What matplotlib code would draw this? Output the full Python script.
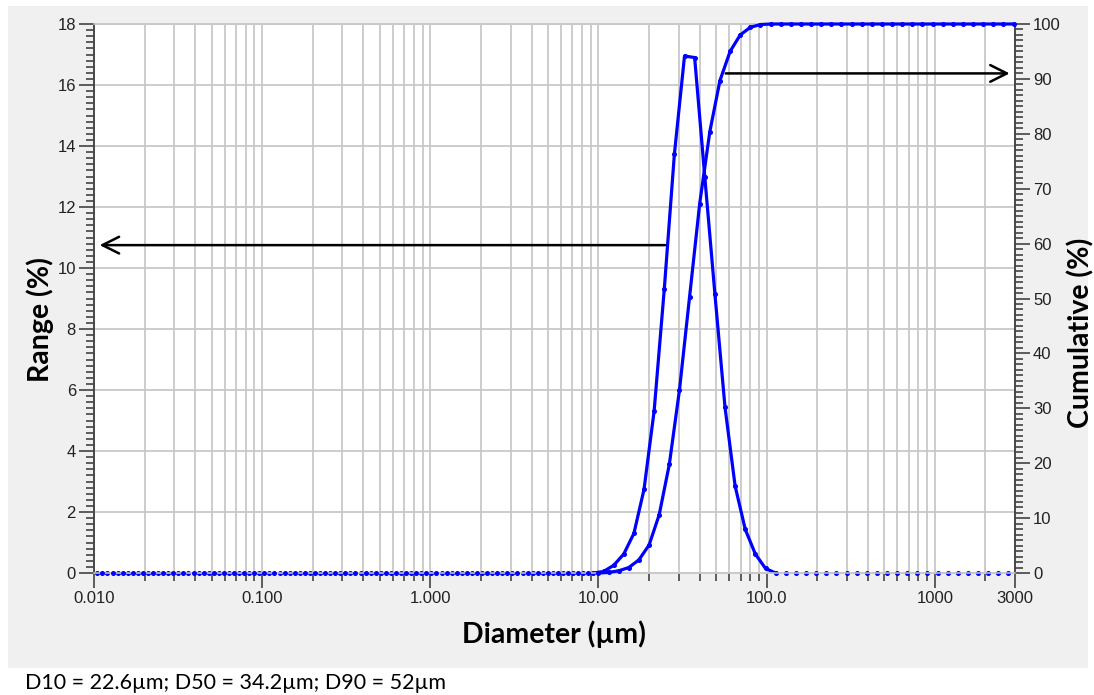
import matplotlib
matplotlib.use('Agg')
import matplotlib.pyplot as plt
import numpy as np
from matplotlib.ticker import FixedLocator, MultipleLocator, NullFormatter
from matplotlib.patches import Rectangle

# ---------------- data ----------------
range_diam = [
    0.01047, 0.01202, 0.01381, 0.01587, 0.01822,
    0.02093, 0.02405, 0.02762, 0.03173, 0.03645,
    0.04187, 0.04809, 0.05524, 0.06346, 0.07289,
    0.08373, 0.09618, 0.1105, 0.1269, 0.1458,
    0.1675, 0.1924, 0.2210, 0.2538, 0.2916,
    0.3349, 0.3847, 0.4419, 0.5077, 0.5831,
    0.6699, 0.7695, 0.8839, 1.015, 1.166,
    1.340, 1.539, 1.768, 2.031, 2.333,
    2.679, 3.078, 3.536, 4.061, 4.665,
    5.359, 6.156, 7.071, 8.123, 9.330,
    10.72, 12.31, 14.14, 16.25, 18.66, 21.44, 24.62, 28.28, 32.49,
    37.32, 42.87, 49.25, 56.57, 64.98, 74.64, 85.74, 98.49,
    113.1, 130.0, 149.3, 171.5, 197.0, 226.3, 259.9, 298.6, 343.0,
    393.9, 452.5, 519.8, 597.1, 685.9, 787.9, 905.1, 1040, 1194,
    1372, 1576, 1810, 2079, 2389, 2744,
]
range_pct = [
    0, 0, 0, 0, 0, 0, 0, 0, 0, 0,
    0, 0, 0, 0, 0, 0, 0, 0, 0, 0,
    0, 0, 0, 0, 0, 0, 0, 0, 0, 0,
    0, 0, 0, 0, 0, 0, 0, 0, 0, 0,
    0, 0, 0, 0, 0, 0, 0, 0, 0, 0,
    0.05, 0.25, 0.62, 1.30, 2.74, 5.32, 9.30, 13.73, 16.95,
    16.90, 13.00, 9.15, 5.43, 2.85, 1.43, 0.62, 0.15,
    0, 0, 0, 0, 0, 0, 0, 0, 0,
    0, 0, 0, 0, 0, 0, 0, 0, 0,
    0, 0, 0, 0, 0, 0,
]
cum_diam = [
    0.01122, 0.01289, 0.01480, 0.01700,
    0.01953, 0.02244, 0.02577, 0.02960, 0.03401,
    0.03906, 0.04487, 0.05154, 0.05921, 0.06801,
    0.07813, 0.08974, 0.1031, 0.1184, 0.1360,
    0.1563, 0.1795, 0.2062, 0.2368, 0.2720,
    0.3125, 0.3590, 0.4123, 0.4737, 0.5441,
    0.6250, 0.7179, 0.8247, 0.9473, 1.088,
    1.250, 1.436, 1.649, 1.895, 2.176,
    2.500, 2.872, 3.299, 3.789, 4.353,
    5.000, 5.743, 6.598, 7.579, 8.706,
    10.00,
    11.49, 13.20, 15.16, 17.41, 20.00, 22.97, 26.39, 30.31,
    34.82, 40.00, 45.95, 52.78, 60.63, 69.64, 80.00, 91.90,
    105.6, 121.3, 139.3, 160.0, 183.8, 211.1, 242.5, 278.6,
    320.0, 367.6, 422.2, 485.0, 557.2, 640.0, 735.2, 844.5,
    970.1, 1114, 1280, 1470, 1689, 1940, 2229, 2560, 2941,
]
cum_pct = [
    0, 0, 0, 0,
    0, 0, 0, 0, 0,
    0, 0, 0, 0, 0,
    0, 0, 0, 0, 0,
    0, 0, 0, 0, 0,
    0, 0, 0, 0, 0,
    0, 0, 0, 0, 0,
    0, 0, 0, 0, 0,
    0, 0, 0, 0, 0,
    0, 0, 0, 0, 0,
    0,
    0.1, 0.4, 1.0, 2.4, 5.1, 10.6, 19.8, 33.3,
    50.3, 67.3, 80.4, 89.7, 95.0, 98.0, 99.4, 99.9,
    100, 100, 100, 100, 100, 100, 100, 100,
    100, 100, 100, 100, 100, 100, 100, 100,
    100, 100, 100, 100, 100, 100, 100, 100, 100,
]
x_tick_vals = [0.01, 0.1, 1, 10, 100, 1000, 3000]
x_tick_labels = ['0.010', '0.100', '1.000', '10.00', '100.0', '1000', '3000']
caption = 'D10 = 22.6\u00b5m; D50 = 34.2\u00b5m; D90 = 52\u00b5m'

# ---------------- figure ----------------
W, H = 1094, 695
fig = plt.figure(figsize=(W / 100, H / 100), dpi=100)
fig.patch.set_facecolor('white')
fig.patches.append(Rectangle((8 / W, 1 - 668 / H), (1088 - 8) / W, (668 - 6) / H,
                             transform=fig.transFigure, facecolor='#f0f0f0',
                             edgecolor='none', zorder=-10))

ax = fig.add_axes([94 / W, 1 - 573 / H, (1015 - 94) / W, (573 - 24) / H])
ax.set_facecolor('white')
ax.set_xscale('log')
ax.set_xlim(0.01, 3000)
ax.set_ylim(0, 18)

minor_x = [m * 10.0 ** e for e in range(-2, 3) for m in range(2, 10)] + [2000]
ax.xaxis.set_major_locator(FixedLocator(x_tick_vals))
ax.set_xticklabels(x_tick_labels)
ax.xaxis.set_minor_locator(FixedLocator(minor_x))
ax.xaxis.set_minor_formatter(NullFormatter())
ax.yaxis.set_major_locator(MultipleLocator(2))
ax.yaxis.set_minor_locator(MultipleLocator(0.2))

grid_c = '#c8c8c8'
ax.set_axisbelow(True)
ax.grid(True, which='both', axis='x', color=grid_c, lw=1.3)
ax.grid(True, which='major', axis='y', color=grid_c, lw=1.3)

tick_c = '#222222'
ax.tick_params(axis='both', which='major', direction='out', length=11, width=1.1,
               color='#333333', labelsize=12, labelcolor=tick_c, pad=2)
ax.tick_params(axis='both', which='minor', direction='out', length=6, width=1.1,
               color='#333333')
for lab in ax.get_xticklabels() + ax.get_yticklabels():
    lab.set_family('Liberation Sans')

ax2 = ax.twinx()
ax2.set_ylim(0, 100)
ax2.yaxis.set_major_locator(MultipleLocator(10))
ax2.yaxis.set_minor_locator(MultipleLocator(1))
ax2.tick_params(axis='y', which='major', direction='out', length=11, width=1.1,
                color='#333333', labelsize=12, labelcolor=tick_c, pad=2)
ax2.tick_params(axis='y', which='minor', direction='out', length=6, width=1.1,
                color='#333333')
for lab in ax2.get_yticklabels():
    lab.set_family('Liberation Sans')

for a in (ax, ax2):
    a.spines['top'].set_color(grid_c)
    a.spines['bottom'].set_color(grid_c)
    a.spines['left'].set_color('#444444')
    a.spines['right'].set_color('#444444')
    for s in a.spines.values():
        s.set_linewidth(1.1)

blue = '#0000ff'
rd = np.array(range_diam)
rp = np.array(range_pct)
nz = np.nonzero(rp)[0]
seg = slice(nz[0] - 1, nz[-1] + 2)
ax.plot(rd[seg], rp[seg], color=blue, lw=2.3, solid_joinstyle='round', zorder=3)
ax.plot(rd, rp, ls='none', marker='o', ms=2.6, color=blue, zorder=3, clip_on=False)

cd = np.array(cum_diam)
cp = np.array(cum_pct)
start = np.nonzero(cp)[0][0] - 1
ax2.plot(cd[start:], cp[start:], color=blue, lw=2.3, solid_joinstyle='round', zorder=3,
         clip_on=False)
ax2.plot(cd, cp, ls='none', marker='o', ms=2.6, color=blue, zorder=3, clip_on=False)

arrow = dict(arrowstyle='->,head_length=0.6,head_width=0.3', color='black', lw=1.8,
             mutation_scale=20, shrinkA=0, shrinkB=0)
ax.annotate('', xy=(0.0108, 10.75), xytext=(24.9, 10.75), arrowprops=arrow, zorder=4)
ax2.annotate('', xy=(2790, 91), xytext=(57.1, 91), arrowprops=arrow, zorder=4)

# ---------------- labels ----------------
lab_font = dict(family='Lato', fontweight='bold', fontsize=20.5, color='black')
fig.text(554 / W, 1 - 634 / H, 'Diameter (\u00b5m)', ha='center', va='center', **lab_font)
fig.text(40 / W, 1 - 320 / H, 'Range (%)', ha='center', va='center', rotation=90, **lab_font)
fig.text(1081 / W, 1 - 333 / H, 'Cumulative (%)', ha='center', va='center', rotation=90,
         **lab_font)
fig.text(25 / W, 1 - 683 / H, caption, ha='left', va='center', family='Lato',
         fontsize=15.5, color='black')

fig.savefig('out.png', dpi=100)
